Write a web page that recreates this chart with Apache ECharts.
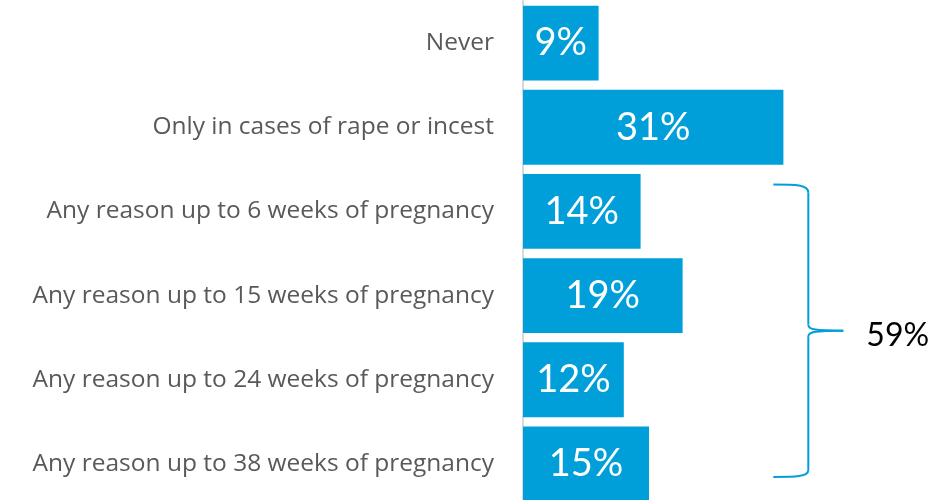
<!DOCTYPE html>
<html>
<head>
<meta charset="utf-8">
<script src="https://cdn.jsdelivr.net/npm/echarts@6/dist/echarts.min.js"></script>
<style>
  html, body { margin: 0; padding: 0; background: #fff; }
  #chart { width: 936px; height: 500px; }
</style>
</head>
<body>
<div id="chart"></div>
<script>
// When abortion should be legal: share of respondents per answer
const categories = [
  'Never',
  'Only in cases of rape or incest',
  'Any reason up to 6 weeks of pregnancy',
  'Any reason up to 15 weeks of pregnancy',
  'Any reason up to 24 weeks of pregnancy',
  'Any reason up to 38 weeks of pregnancy'
];
const shares = [9, 31, 14, 19, 12, 15];
// Combined share of the four "any reason" answers, as published
const bracketLabel = '59%';
const bracketFrom = 2;
const bracketTo = 5;

const BLUE = '#009FDA';
const chart = echarts.init(document.getElementById('chart'), null, { renderer: 'canvas' });

chart.setOption({
  animation: false,
  grid: {
    left: 523, width: 336, top: 1, height: 505,
    containLabel: false, outerBoundsMode: 'none'
  },
  xAxis: {
    type: 'value', min: 0, max: 40, show: false,
    splitLine: { show: false }
  },
  yAxis: {
    type: 'category', data: categories, inverse: true,
    axisLine: { show: true, lineStyle: { color: '#D9D9D9', width: 2 } },
    axisTick: { show: false },
    axisLabel: {
      margin: 29, color: '#595959', fontFamily: 'Open Sans', fontSize: 24.5
    }
  },
  series: [{
    type: 'bar',
    data: shares,
    barCategoryGap: '11%',
    itemStyle: { color: BLUE },
    label: {
      show: true, position: 'inside', color: '#fff',
      fontFamily: 'Lato', fontSize: 38,
      formatter: p => p.value + '%'
    }
  }]
});

// Brace grouping the "any reason" answers, placed from the axis scales
function drawBrace() {
  const yTop = chart.convertToPixel({ yAxisIndex: 0 }, bracketFrom) - 27;
  const yBot = chart.convertToPixel({ yAxisIndex: 0 }, bracketTo) + 13;
  const x0 = chart.convertToPixel({ xAxisIndex: 0 }, 29.8);
  const xs = x0 + 35;
  const xt = xs + 35;
  const ym = (yTop + yBot) / 2;
  const stroke = { stroke: BLUE, lineWidth: 2, fill: null };
  const curve = (x1, y1, cx1, cy1, cx2, cy2, x2, y2) => ({
    type: 'bezierCurve',
    shape: { x1, y1, cpx1: cx1, cpy1: cy1, cpx2: cx2, cpy2: cy2, x2, y2 },
    style: stroke
  });
  const line = (x1, y1, x2, y2) => ({
    type: 'line', shape: { x1, y1, x2, y2 }, style: stroke
  });
  chart.setOption({
    graphic: [
      curve(x0, yTop, x0 + 22, yTop, xs, yTop, xs, yTop + 8),
      line(xs, yTop + 8, xs, ym - 6),
      curve(xs, ym - 6, xs, ym - 1, xs + 7, ym, xt, ym),
      curve(xt, ym, xs + 7, ym, xs, ym + 1, xs, ym + 6),
      line(xs, ym + 6, xs, yBot - 7),
      curve(xs, yBot - 7, xs, yBot, x0 + 22, yBot, x0, yBot),
      {
        type: 'text', x: xt + 23, y: ym + 5,
        style: {
          text: bracketLabel, fill: '#000', font: '32px Lato',
          textAlign: 'left', textVerticalAlign: 'middle'
        }
      }
    ]
  });
}
drawBrace();
</script>
</body>
</html>
